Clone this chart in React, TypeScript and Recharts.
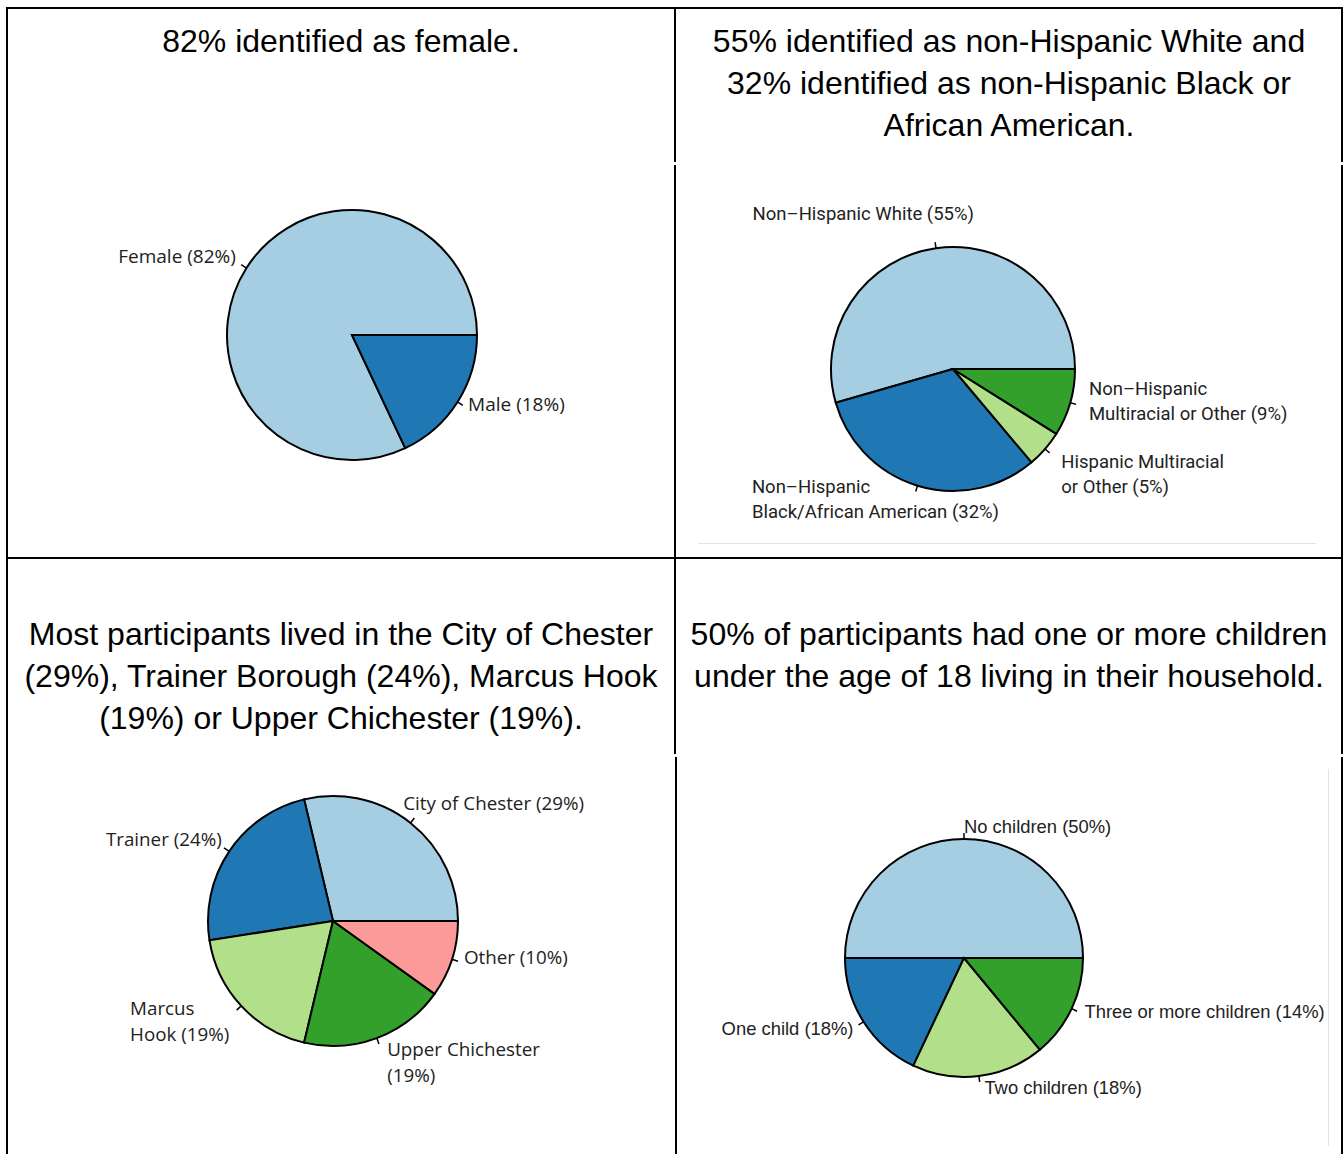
import { PieChart, Pie, Cell } from 'recharts'

// ---- data ----
const genderNames = ['Female (82%)', 'Male (18%)']
const genderValues = [82, 18]

const raceNames = [
  'Non–Hispanic White (55%)',
  'Non–Hispanic\nBlack/African American (32%)',
  'Hispanic Multiracial\nor Other (5%)',
  'Non–Hispanic\nMultiracial or Other (9%)'
]
const raceValues = [55, 32, 5, 9]

const placeNames = [
  'City of Chester (29%)',
  'Trainer (24%)',
  'Marcus\nHook (19%)',
  'Upper Chichester\n(19%)',
  'Other (10%)'
]
const placeValues = [29, 24, 19, 19, 10]

const childNames = [
  'No children (50%)',
  'One child (18%)',
  'Two children (18%)',
  'Three or more children (14%)'
]
const childValues = [50, 18, 18, 14]

const paired = ['#A6CEE3', '#1F78B4', '#B2DF8A', '#33A02C', '#FB9A99']

type LabelPos = { anchor: 'start' | 'end' | 'middle'; dx: number; dy: number }

// label nudges relative to the 1.1r point (like base R pie)
const genderLabels: LabelPos[] = [
  { anchor: 'end', dx: 0, dy: -5 },
  { anchor: 'start', dx: 0, dy: -5 }
]
const raceLabels: LabelPos[] = [
  { anchor: 'middle', dx: -71, dy: -22 },
  { anchor: 'start', dx: -162, dy: 2 },
  { anchor: 'start', dx: 7, dy: 17 },
  { anchor: 'start', dx: 7, dy: -5 }
]
const placeLabels: LabelPos[] = [
  { anchor: 'start', dx: -15, dy: -10 },
  { anchor: 'end', dx: 3, dy: -5 },
  { anchor: 'start', dx: -102, dy: 7 },
  { anchor: 'start', dx: 6, dy: 12 },
  { anchor: 'start', dx: 0, dy: -6 }
]
const childLabels: LabelPos[] = [
  { anchor: 'start', dx: 0, dy: -1 },
  { anchor: 'end', dx: 0, dy: 0 },
  { anchor: 'start', dx: 4, dy: -1 },
  { anchor: 'start', dx: 2, dy: -3 }
]

const RAD = Math.PI / 180

const makeLabel =
  (names: string[], pos: LabelPos[], font: string, size: number, lh: number) =>
  (props: any) => {
    const { cx, cy, midAngle, outerRadius, index } = props
    const c = Math.cos(midAngle * RAD)
    const s = Math.sin(midAngle * RAD)
    const r = outerRadius
    const p = pos[index]
    const ax = cx + 1.1 * r * c + p.dx
    const ay = cy - 1.1 * r * s + p.dy
    const lines = names[index].split('\n')
    const y0 = ay - ((lines.length - 1) * lh) / 2
    return (
      <g key={`lab-${index}`}>
        <line
          x1={cx + r * c}
          y1={cy - r * s}
          x2={cx + 1.05 * r * c}
          y2={cy - 1.05 * r * s}
          stroke='#000'
          strokeWidth={1.5}
        />
        <text
          x={ax}
          y={y0}
          textAnchor={p.anchor}
          dominantBaseline='central'
          fontFamily={font}
          fontSize={size}
          fill='#222'
        >
          {lines.map((l, i) => (
            <tspan key={i} x={ax} y={y0 + i * lh}>
              {l}
            </tspan>
          ))}
        </text>
      </g>
    )
  }

interface PieBoxProps {
  names: string[]
  values: number[]
  labels: LabelPos[]
  left: number
  top: number
  width: number
  height: number
  cx: number
  cy: number
  r: number
  font: string
  size: number
  lh: number
}

const PieBox = (b: PieBoxProps) => {
  const data = b.names.map((n, i) => ({ name: n, value: b.values[i] }))
  return (
    <div style={{ position: 'absolute', left: b.left, top: b.top }}>
      <PieChart
        width={b.width}
        height={b.height}
        margin={{ top: 0, right: 0, bottom: 0, left: 0 }}
      >
        <Pie
          data={data}
          dataKey='value'
          cx={b.cx}
          cy={b.cy}
          outerRadius={b.r}
          startAngle={0}
          endAngle={360}
          stroke='#000'
          strokeWidth={2}
          labelLine={false}
          label={makeLabel(b.names, b.labels, b.font, b.size, b.lh)}
          isAnimationActive={false}
        >
          {data.map((_, i) => (
            <Cell key={`c-${i}`} fill={paired[i]} />
          ))}
        </Pie>
      </PieChart>
    </div>
  )
}

const bar = (left: number, top: number, width: number, height: number, color = '#000') => (
  <div
    style={{ position: 'absolute', left, top, width, height, background: color }}
  />
)

const titleStyle = (left: number, top: number, width: number): React.CSSProperties => ({
  position: 'absolute',
  left,
  top,
  width,
  textAlign: 'center',
  fontFamily: '"Liberation Sans", Arial, sans-serif',
  fontSize: 32,
  lineHeight: '42px',
  color: '#000'
})

export default function App() {
  return (
    <div
      style={{
        position: 'absolute',
        left: 0,
        top: 0,
        width: 1343,
        height: 1154,
        background: '#fff',
        overflow: 'hidden'
      }}
    >
      {/* table borders */}
      {bar(6, 7, 1337, 2)}
      {bar(6, 7, 2, 1147)}
      {bar(6, 557, 1337, 2)}
      {bar(674, 7, 2, 155)}
      {bar(674, 165, 2, 589)}
      {bar(675, 757, 2, 397)}
      {bar(1341, 7, 2, 155)}
      {bar(1341, 165, 2, 589)}
      {bar(1341, 757, 2, 397)}
      {bar(698, 543, 618, 1, '#e3e3e3')}
      {bar(1328, 769, 1, 377, '#e3e3e3')}

      <div style={titleStyle(8, 20, 666)}>82% identified as female.</div>
      <div style={titleStyle(677, 20, 664)}>
        55% identified as non-Hispanic White and
        <br />
        32% identified as non-Hispanic Black or
        <br />
        African American.
      </div>
      <div style={titleStyle(8, 613, 666)}>
        Most participants lived in the City of Chester
        <br />
        (29%), Trainer Borough (24%), Marcus Hook
        <br />
        (19%) or Upper Chichester (19%).
      </div>
      <div style={titleStyle(677, 613, 664)}>
        50% of participants had one or more children
        <br />
        under the age of 18 living in their household.
      </div>

      <PieBox
        names={genderNames}
        values={genderValues}
        labels={genderLabels}
        left={8}
        top={165}
        width={666}
        height={390}
        cx={344}
        cy={170}
        r={125}
        font='"Open Sans", sans-serif'
        size={19}
        lh={26}
      />
      <PieBox
        names={raceNames}
        values={raceValues}
        labels={raceLabels}
        left={677}
        top={165}
        width={664}
        height={376}
        cx={276}
        cy={204}
        r={122}
        font='Roboto, sans-serif'
        size={18.5}
        lh={25}
      />
      <PieBox
        names={placeNames}
        values={placeValues}
        labels={placeLabels}
        left={8}
        top={759}
        width={666}
        height={390}
        cx={325}
        cy={162}
        r={125}
        font='"Open Sans", sans-serif'
        size={18.8}
        lh={26}
      />
      <PieBox
        names={childNames}
        values={childValues}
        labels={childLabels}
        left={677}
        top={759}
        width={648}
        height={390}
        cx={287}
        cy={199}
        r={119}
        font='"Liberation Sans", Arial, sans-serif'
        size={18.4}
        lh={26}
      />
    </div>
  )
}
